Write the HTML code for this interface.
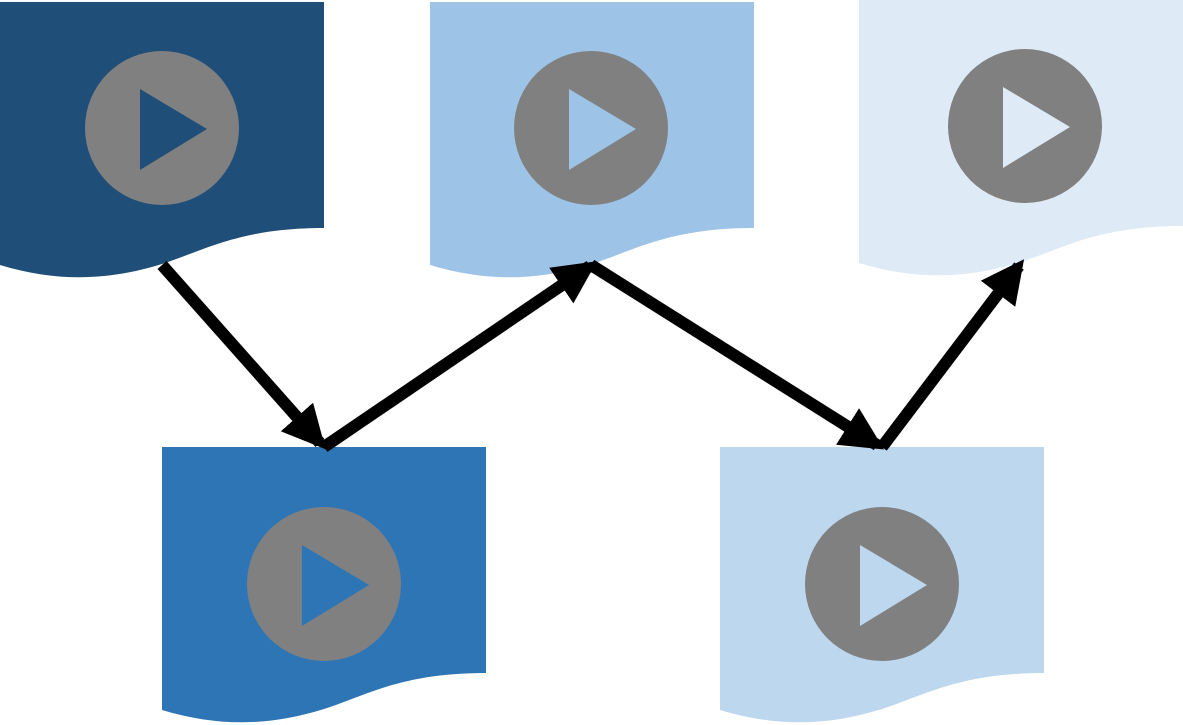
<!DOCTYPE html>
<html><head><style>html,body{margin:0;padding:0;background:#fff;}svg{display:block}</style></head>
<body>
<svg width="1183" height="725" viewBox="0 0 1183 725" xmlns="http://www.w3.org/2000/svg">
<defs>
<path id="doc" d="M0,0 H324 V226 C240,226 205,248 162,262 C110,278 60,281 0,263 Z"/>
<marker id="ah" markerWidth="3.6" markerHeight="3.6" refX="2.9" refY="1.8" orient="auto" markerUnits="strokeWidth"><path d="M0,0 L3.6,1.8 L0,3.6 Z" fill="#000"/></marker>
</defs>
<use href="#doc" x="0" y="2" fill="#1F4E79"/>
<use href="#doc" x="430" y="2" fill="#9DC3E6"/>
<use href="#doc" x="859" y="0" fill="#DEEBF7"/>
<use href="#doc" x="162" y="447" fill="#2E75B6"/>
<use href="#doc" x="720" y="447" fill="#BDD7EE"/>
<circle cx="162" cy="128" r="77" fill="#808080"/><path d="M140,89 L207,129 L140,170 Z" fill="#1F4E79"/>
<circle cx="591" cy="128" r="77" fill="#808080"/><path d="M569,89 L636,129 L569,170 Z" fill="#9DC3E6"/>
<circle cx="1025" cy="126" r="77" fill="#808080"/><path d="M1003,87 L1070,127 L1003,168 Z" fill="#DEEBF7"/>
<circle cx="324" cy="584" r="77" fill="#808080"/><path d="M302,545 L369,585 L302,626 Z" fill="#2E75B6"/>
<circle cx="882" cy="584" r="77" fill="#808080"/><path d="M860,545 L927,585 L860,626 Z" fill="#BDD7EE"/>
<g stroke="#000" stroke-width="12" fill="none">
<line x1="162" y1="265" x2="320" y2="443" marker-end="url(#ah)"/>
<line x1="324" y1="447" x2="590" y2="266" marker-end="url(#ah)"/>
<line x1="591" y1="265" x2="877" y2="445" marker-end="url(#ah)"/>
<line x1="882" y1="447" x2="1019" y2="266" marker-end="url(#ah)"/>
</g>
</svg>
</body></html>
